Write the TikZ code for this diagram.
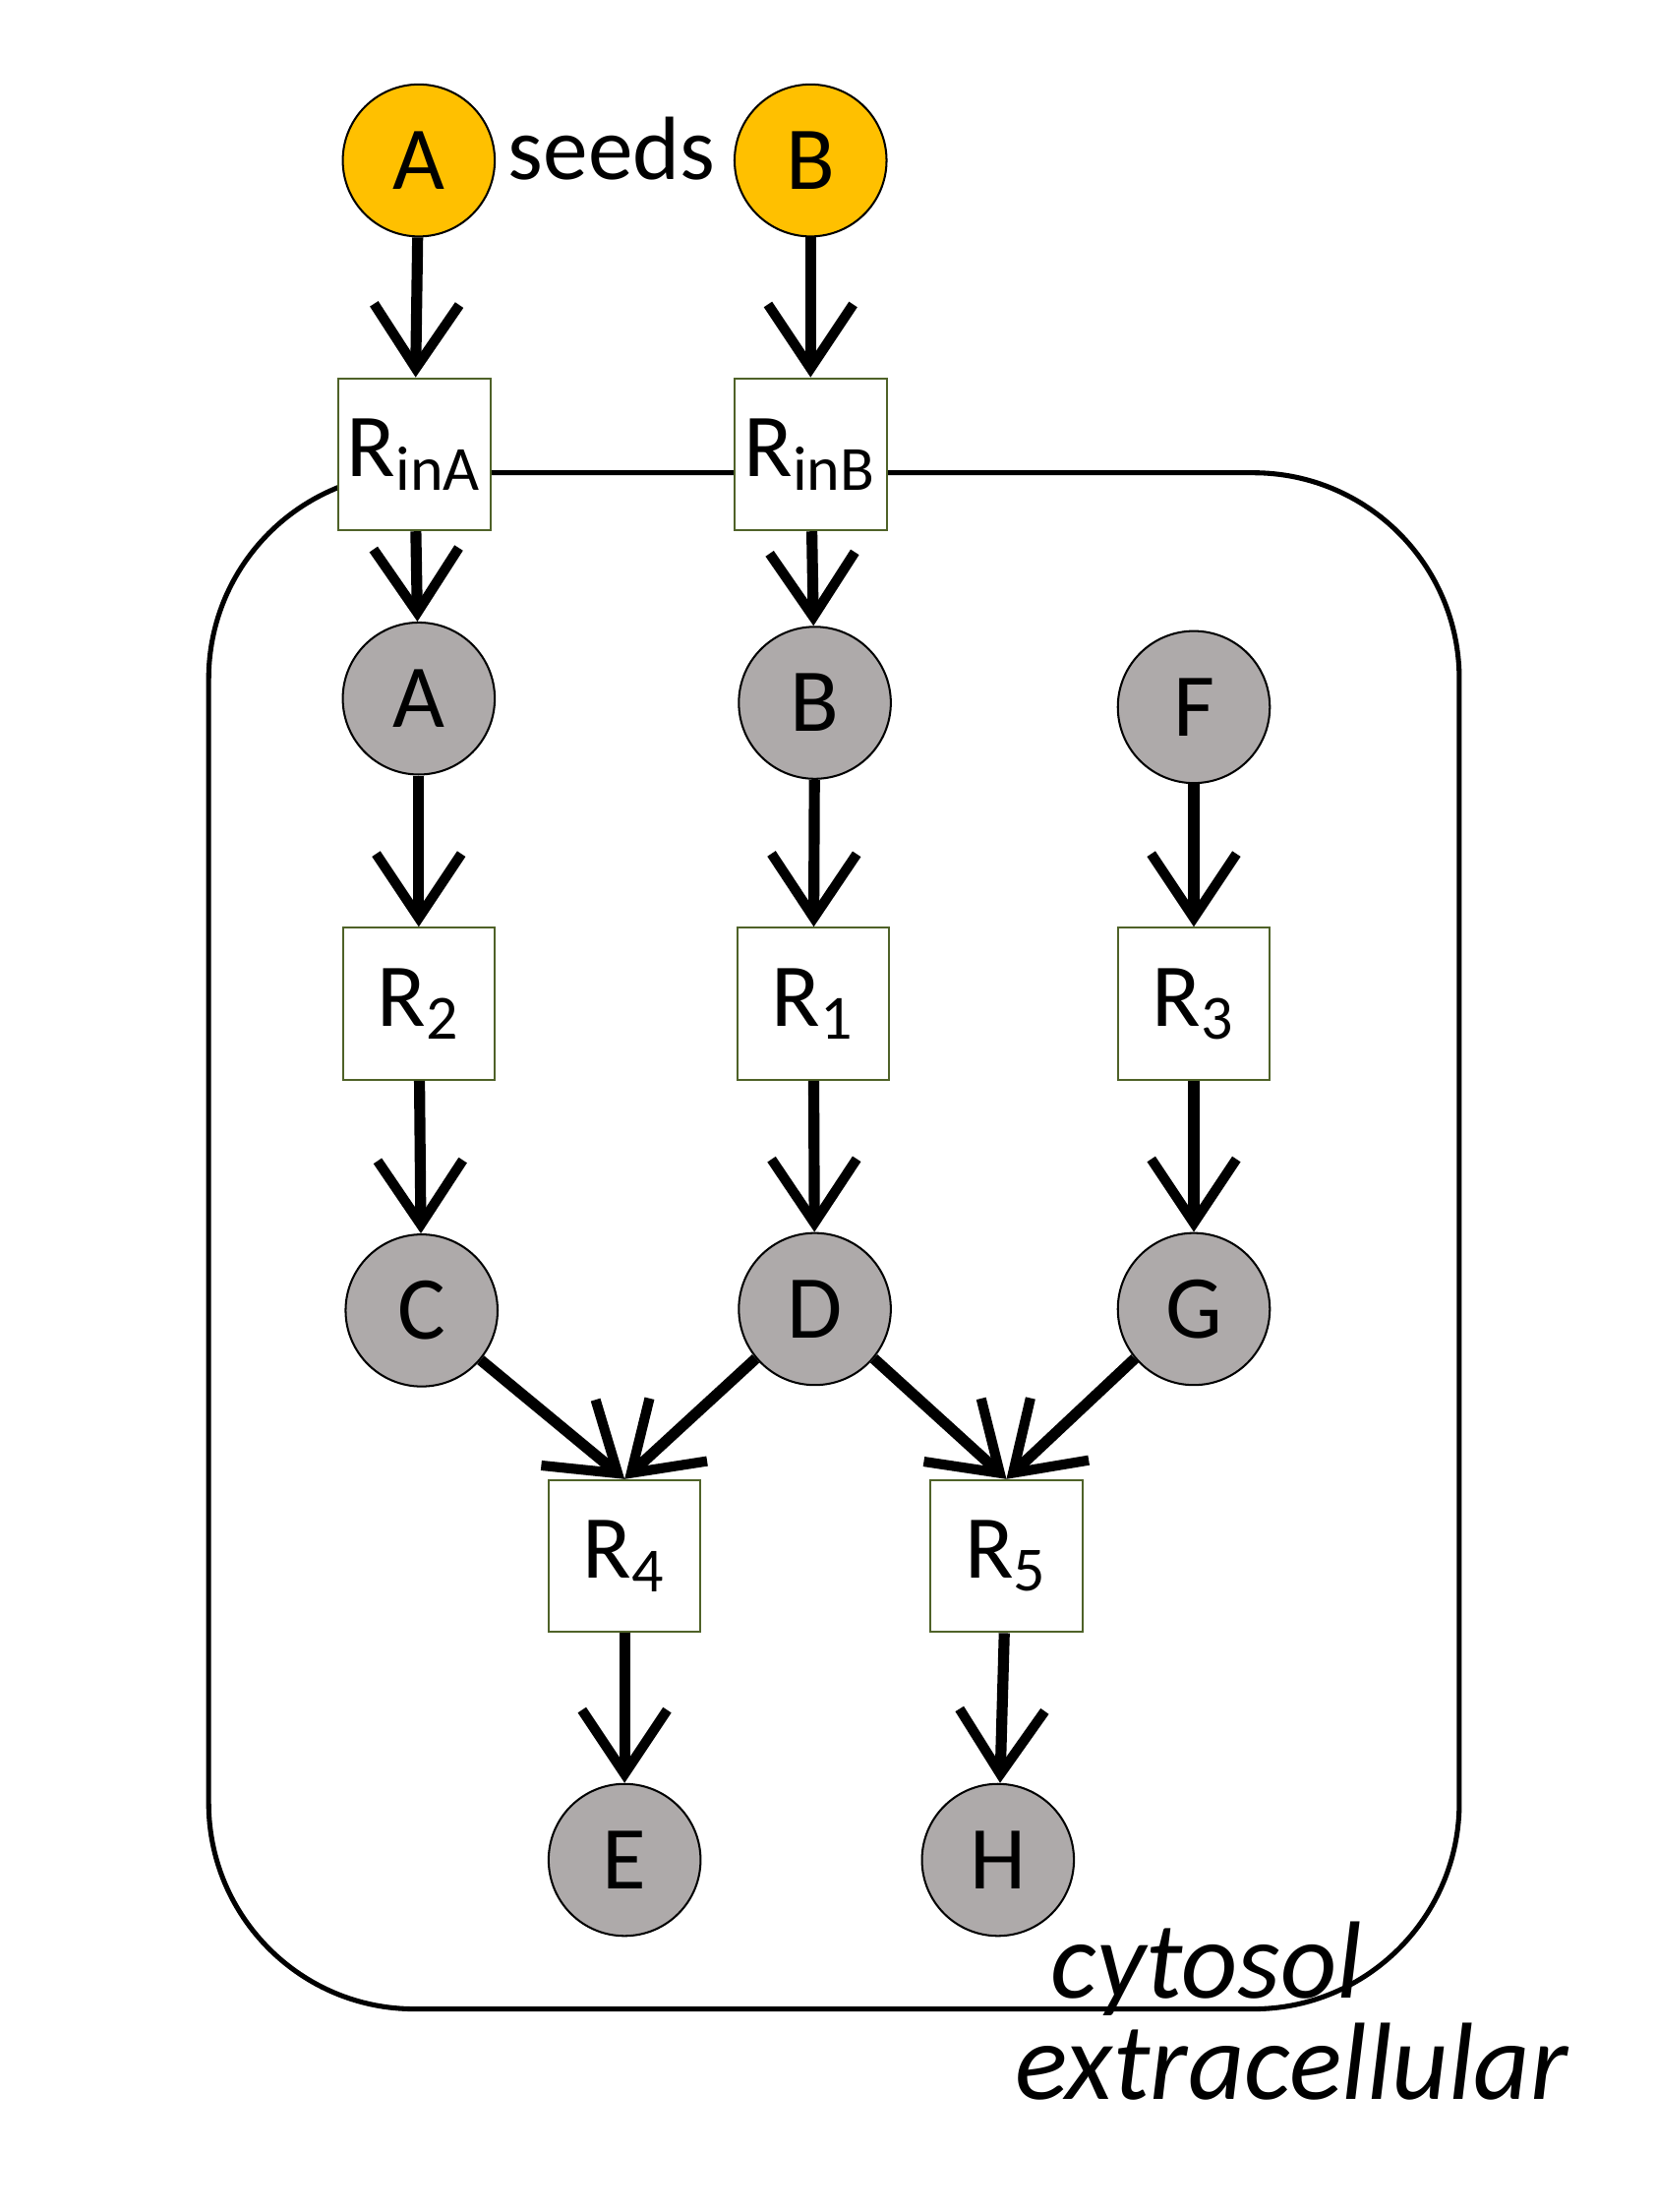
\documentclass[tikz,border=0pt]{standalone}
\usepackage{fontspec}
\setmainfont{Carlito}
\usetikzlibrary{arrows.meta, positioning}
\definecolor{seedOrange}{HTML}{FFC000}
\definecolor{metGray}{HTML}{AEAAAA}
\definecolor{reacGreen}{HTML}{4F6228}

\begin{document}
\begin{tikzpicture}[
    x = 0.01cm, y = -0.01cm,
    font = \fontsize{18}{20}\selectfont,
    % Metabolites.
    seed/.style = {circle, draw = black, fill = seedOrange, minimum size = 1.07cm, inner sep = 0pt},
    met/.style = {circle, draw = black, fill = metGray, minimum size = 1.07cm, inner sep = 0pt},
    % Reactions.
    reac/.style = {rectangle, draw = reacGreen, fill = white, minimum size = 1.07cm, inner sep = 0pt},
    % Links.
    flow/.style = {-{Straight Barb[length = 4.5mm, width = 6mm, line width = 2pt]},
      line width = 2.2pt, shorten <= 0pt}
  ]
  \useasboundingbox[fill = white] (0,0) rectangle (1166,1558);

  % Compartment.
  \draw[line width = 1pt, rounded corners = 1.45cm] (147,333) rectangle (1028,1415);
  \node[font = \fontsize{22}{24}\itshape] (cyto) at (850,1387) {cytosol};
  \node[font = \fontsize{22}{24}\itshape] (extra) at (910,1452) {extracellular};

  % Seeds.
  \node[seed] (sA) at (295,113) {A};
  \node[seed] (sB) at (571,113) {B};
  \node (seeds) at (431,105) {seeds};

  % Reactions.
  \node[reac] (RinA) at (292,320) {R\textsubscript{inA}};
  \node[reac] (RinB) at (571,320) {R\textsubscript{inB}};
  \node[reac] (R2) at (295,707) {R\textsubscript{2}};
  \node[reac] (R1) at (573,707) {R\textsubscript{1}};
  \node[reac] (R3) at (841,707) {R\textsubscript{3}};
  \node[reac] (R4) at (440,1096) {R\textsubscript{4}};
  \node[reac] (R5) at (709,1096) {R\textsubscript{5}};

  % Metabolites.
  \node[met] (A) at (295,492) {A};
  \node[met] (B) at (574,495) {B};
  \node[met] (F) at (841,498) {F};
  \node[met] (C) at (297,923) {C};
  \node[met] (D) at (574,922) {D};
  \node[met] (G) at (841,922) {G};
  \node[met] (E) at (440,1310) {E};
  \node[met] (H) at (703,1310) {H};

  % Links.
  \draw[flow] (sA) -- (RinA);
  \draw[flow] (sB) -- (RinB);
  \draw[flow] (RinA) -- (A);
  \draw[flow] (RinB) -- (B);
  \draw[flow] (A) -- (R2);
  \draw[flow] (B) -- (R1);
  \draw[flow] (F) -- (R3);
  \draw[flow] (R2) -- (C);
  \draw[flow] (R1) -- (D);
  \draw[flow] (R3) -- (G);
  \draw[flow] (C.-40) -- (R4.north);
  \draw[flow] (D.-140) -- (R4.north);
  \draw[flow] (D.-40) -- (R5.north);
  \draw[flow] (G.-140) -- (R5.north);
  \draw[flow] (R4) -- (E);
  \draw[flow] (R5) -- (H);
\end{tikzpicture}
\end{document}
